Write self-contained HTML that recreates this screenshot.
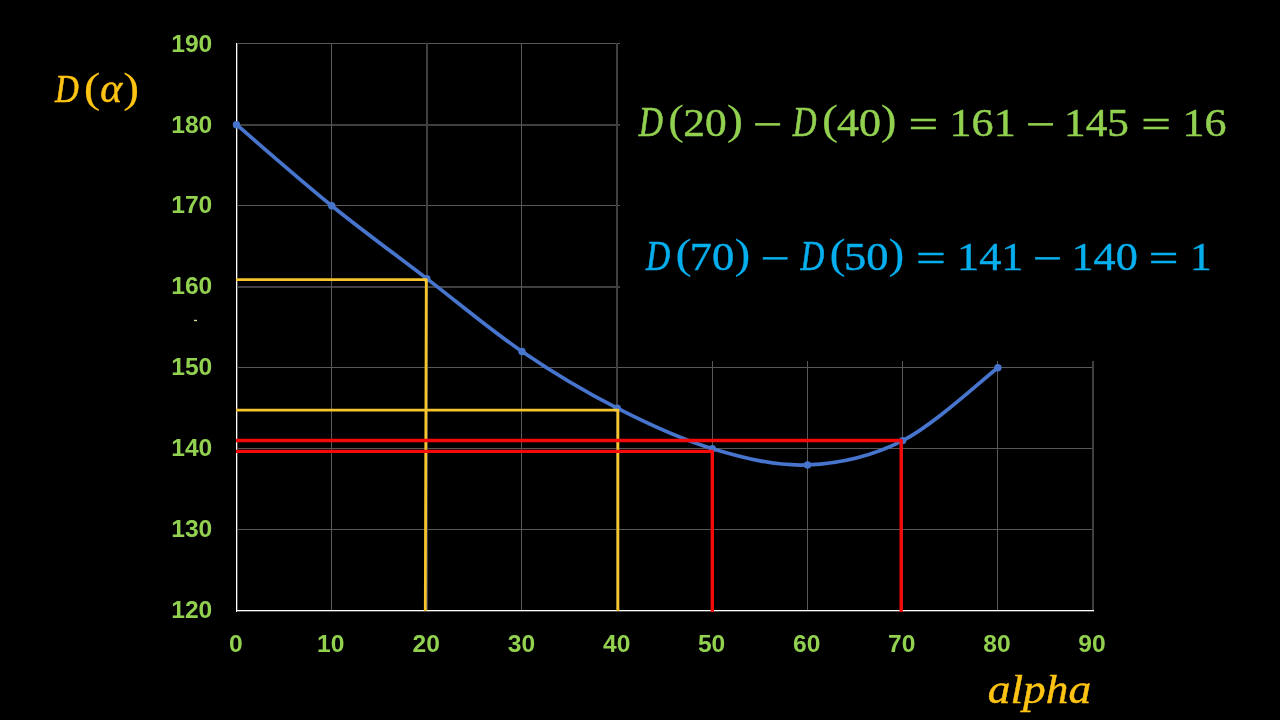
<!DOCTYPE html>
<html><head><meta charset="utf-8"><title>D(alpha) chart</title>
<style>
html,body{margin:0;padding:0;background:#000;width:1280px;height:720px;overflow:hidden}
svg{display:block}
</style></head>
<body>
<svg width="1280" height="720" viewBox="0 0 1280 720">
<rect width="1280" height="720" fill="#000"/>
<g>
<rect x="237" y="43" width="383" height="1" fill="#585858"/>
<rect x="237" y="124" width="383" height="2" fill="#404040"/>
<rect x="237" y="205" width="383" height="1" fill="#585858"/>
<rect x="237" y="286" width="383" height="2" fill="#404040"/>
<rect x="237" y="367" width="857" height="1" fill="#585858"/>
<rect x="237" y="448" width="857" height="1" fill="#585858"/>
<rect x="237" y="529" width="857" height="1" fill="#585858"/>
<rect x="331" y="43" width="1" height="567" fill="#585858"/>
<rect x="426" y="43" width="2" height="567" fill="#404040"/>
<rect x="521" y="43" width="1" height="567" fill="#585858"/>
<rect x="616" y="43" width="2" height="567" fill="#404040"/>
<rect x="712" y="361" width="1" height="249" fill="#585858"/>
<rect x="807" y="361" width="1" height="249" fill="#585858"/>
<rect x="902" y="361" width="1" height="249" fill="#585858"/>
<rect x="997" y="361" width="1" height="249" fill="#585858"/>
<rect x="1092" y="361" width="2" height="249" fill="#404040"/>
</g>
<rect x="236" y="43" width="1" height="569" fill="#fff"/>
<rect x="237" y="43" width="1" height="567" fill="#505050"/>
<rect x="236" y="610" width="858" height="1" fill="#fff"/>
<rect x="237" y="611" width="857" height="1" fill="#505050"/>
<g fill="none" stroke="#4774CC" stroke-width="3.7" stroke-linecap="round">
<path d="M236.5,124.7 C252.4,138.2 299.9,180.0 331.7,205.7 C363.4,231.3 395.1,254.3 426.8,278.6 C458.6,302.9 490.3,329.9 522.0,351.5 C553.7,373.1 585.5,392.0 617.2,408.2 C648.9,424.4 680.6,439.2 712.3,448.7 C744.1,458.1 775.8,466.3 807.5,464.9 C839.2,463.6 871.0,456.8 902.7,440.6 C934.4,424.4 982.0,379.8 997.9,367.7"/>
</g>
<g fill="#4774CC">
<circle cx="236.5" cy="124.7" r="3.7"/>
<circle cx="331.7" cy="205.7" r="3.7"/>
<circle cx="426.8" cy="278.6" r="3.7"/>
<circle cx="522.0" cy="351.5" r="3.7"/>
<circle cx="617.2" cy="408.2" r="3.7"/>
<circle cx="712.3" cy="448.7" r="3.7"/>
<circle cx="807.5" cy="464.9" r="3.7"/>
<circle cx="902.7" cy="440.6" r="3.7"/>
<circle cx="997.9" cy="367.7" r="3.7"/>
</g>
<g fill="none" stroke="#F6C42C" stroke-width="2.8" stroke-linejoin="round">
<path d="M236,279.6 H426.3 L425.3,611"/>
<path d="M236,410.2 H617.9 V611"/>
</g>
<g fill="none" stroke="#F50A0A" stroke-width="3.4" stroke-linejoin="round">
<path d="M236,440.5 H901.2 V612"/>
<path d="M236,451.4 H712.3 V612"/>
</g>
<rect x="194" y="319.8" width="3" height="1.4" fill="#d8d890"/>
<text transform="translate(638.78,135.50) scale(0.8066,1.0000)" font-family='"Liberation Serif", serif' font-size="41.5" font-style="italic" fill="#92D050" stroke="#92D050" stroke-width="0.620">D</text>
<text transform="translate(668.17,134.00) scale(1.1158,1.0000)" font-family='"Liberation Serif", serif' font-size="42" fill="#92D050" stroke="#92D050" stroke-width="0.134">(</text>
<text transform="translate(683.29,135.50) scale(1.0609,1.0000)" font-family='"Liberation Serif", serif' font-size="41" fill="#92D050" stroke="#92D050" stroke-width="0.471">20</text>
<text transform="translate(726.70,134.00) scale(1.1676,1.0000)" font-family='"Liberation Serif", serif' font-size="42" fill="#92D050" stroke="#92D050" stroke-width="0.128">)</text>
<text transform="translate(752.72,138.00) scale(1.2851,1.0000)" font-family='"Liberation Serif", serif' font-size="41" fill="#92D050" stroke="#92D050" stroke-width="0.389">−</text>
<text transform="translate(792.78,135.50) scale(0.7932,1.0000)" font-family='"Liberation Serif", serif' font-size="41.5" font-style="italic" fill="#92D050" stroke="#92D050" stroke-width="0.630">D</text>
<text transform="translate(821.90,134.00) scale(1.1531,1.0000)" font-family='"Liberation Serif", serif' font-size="42" fill="#92D050" stroke="#92D050" stroke-width="0.130">(</text>
<text transform="translate(837.07,135.50) scale(1.0716,1.0000)" font-family='"Liberation Serif", serif' font-size="41" fill="#92D050" stroke="#92D050" stroke-width="0.467">40</text>
<text transform="translate(880.85,134.00) scale(1.1310,1.0000)" font-family='"Liberation Serif", serif' font-size="42" fill="#92D050" stroke="#92D050" stroke-width="0.133">)</text>
<text transform="translate(908.62,137.50) scale(1.2851,1.0000)" font-family='"Liberation Serif", serif' font-size="41" fill="#92D050" stroke="#92D050" stroke-width="0.389">=</text>
<text transform="translate(949.60,135.50) scale(1.0746,1.0000)" font-family='"Liberation Serif", serif' font-size="41" fill="#92D050" stroke="#92D050" stroke-width="0.465">161</text>
<text transform="translate(1025.73,138.00) scale(1.2798,1.0000)" font-family='"Liberation Serif", serif' font-size="41" fill="#92D050" stroke="#92D050" stroke-width="0.391">−</text>
<text transform="translate(1064.07,135.50) scale(1.0554,1.0000)" font-family='"Liberation Serif", serif' font-size="41" fill="#92D050" stroke="#92D050" stroke-width="0.474">145</text>
<text transform="translate(1141.37,137.50) scale(1.2825,1.0000)" font-family='"Liberation Serif", serif' font-size="41" fill="#92D050" stroke="#92D050" stroke-width="0.390">=</text>
<text transform="translate(1182.40,135.50) scale(1.0748,1.0000)" font-family='"Liberation Serif", serif' font-size="41" fill="#92D050" stroke="#92D050" stroke-width="0.465">16</text>
<text transform="translate(646.08,269.50) scale(0.8066,1.0000)" font-family='"Liberation Serif", serif' font-size="41.5" font-style="italic" fill="#06AEED" stroke="#06AEED" stroke-width="0.620">D</text>
<text transform="translate(675.40,268.00) scale(1.1531,1.0000)" font-family='"Liberation Serif", serif' font-size="42" fill="#06AEED" stroke="#06AEED" stroke-width="0.130">(</text>
<text transform="translate(689.66,269.50) scale(1.0846,1.0000)" font-family='"Liberation Serif", serif' font-size="41" fill="#06AEED" stroke="#06AEED" stroke-width="0.461">70</text>
<text transform="translate(734.55,268.00) scale(1.1310,1.0000)" font-family='"Liberation Serif", serif' font-size="42" fill="#06AEED" stroke="#06AEED" stroke-width="0.133">)</text>
<text transform="translate(760.46,272.00) scale(1.2641,1.0000)" font-family='"Liberation Serif", serif' font-size="41" fill="#06AEED" stroke="#06AEED" stroke-width="0.396">−</text>
<text transform="translate(800.48,269.50) scale(0.7932,1.0000)" font-family='"Liberation Serif", serif' font-size="41.5" font-style="italic" fill="#06AEED" stroke="#06AEED" stroke-width="0.630">D</text>
<text transform="translate(829.50,268.00) scale(1.1531,1.0000)" font-family='"Liberation Serif", serif' font-size="42" fill="#06AEED" stroke="#06AEED" stroke-width="0.130">(</text>
<text transform="translate(844.08,269.50) scale(1.0867,1.0000)" font-family='"Liberation Serif", serif' font-size="41" fill="#06AEED" stroke="#06AEED" stroke-width="0.460">50</text>
<text transform="translate(888.45,268.00) scale(1.1310,1.0000)" font-family='"Liberation Serif", serif' font-size="42" fill="#06AEED" stroke="#06AEED" stroke-width="0.133">)</text>
<text transform="translate(916.00,271.50) scale(1.2903,1.0000)" font-family='"Liberation Serif", serif' font-size="41" fill="#06AEED" stroke="#06AEED" stroke-width="0.387">=</text>
<text transform="translate(957.09,269.50) scale(1.0800,1.0000)" font-family='"Liberation Serif", serif' font-size="41" fill="#06AEED" stroke="#06AEED" stroke-width="0.463">141</text>
<text transform="translate(1032.84,272.00) scale(1.2746,1.0000)" font-family='"Liberation Serif", serif' font-size="41" fill="#06AEED" stroke="#06AEED" stroke-width="0.392">−</text>
<text transform="translate(1071.49,269.50) scale(1.0776,1.0000)" font-family='"Liberation Serif", serif' font-size="41" fill="#06AEED" stroke="#06AEED" stroke-width="0.464">140</text>
<text transform="translate(1148.87,271.50) scale(1.2851,1.0000)" font-family='"Liberation Serif", serif' font-size="41" fill="#06AEED" stroke="#06AEED" stroke-width="0.389">=</text>
<text transform="translate(1190.06,269.50) scale(1.0581,1.0000)" font-family='"Liberation Serif", serif' font-size="41" fill="#06AEED" stroke="#06AEED" stroke-width="0.473">1</text>
<text transform="translate(54.98,101.70) scale(0.8128,1.0000)" font-family='"Liberation Serif", serif' font-size="40.5" font-style="italic" fill="#FFC413" stroke="#FFC413" stroke-width="0.615">D</text>
<text transform="translate(83.83,101.70) scale(1.2048,1.0000)" font-family='"Liberation Serif", serif' font-size="41.5" fill="#FFC413" stroke="#FFC413" stroke-width="0.124">(</text>
<text transform="translate(100.24,101.70) scale(1.0466,1.0000)" font-family='"Liberation Serif", serif' font-size="40" font-style="italic" fill="#FFC413" stroke="#FFC413" stroke-width="0.478">α</text>
<text transform="translate(123.35,101.70) scale(1.1446,1.0000)" font-family='"Liberation Serif", serif' font-size="41.5" fill="#FFC413" stroke="#FFC413" stroke-width="0.131">)</text>
<text transform="translate(987.79,703.40) scale(1.1346,1.0000)" font-family='"Liberation Serif", serif' font-size="40" font-style="italic" fill="#FFC413" stroke="#FFC413" stroke-width="0.441">alpha</text>
<text transform="translate(171.22,617.77) scale(1.0000,1.0000)" font-family='"Liberation Sans", sans-serif' font-size="24.6" font-weight="bold" fill="#92D050">120</text>
<text transform="translate(171.22,536.91) scale(1.0000,1.0000)" font-family='"Liberation Sans", sans-serif' font-size="24.6" font-weight="bold" fill="#92D050">130</text>
<text transform="translate(171.22,456.05) scale(1.0000,1.0000)" font-family='"Liberation Sans", sans-serif' font-size="24.6" font-weight="bold" fill="#92D050">140</text>
<text transform="translate(171.22,375.19) scale(1.0000,1.0000)" font-family='"Liberation Sans", sans-serif' font-size="24.6" font-weight="bold" fill="#92D050">150</text>
<text transform="translate(171.22,294.33) scale(1.0000,1.0000)" font-family='"Liberation Sans", sans-serif' font-size="24.6" font-weight="bold" fill="#92D050">160</text>
<text transform="translate(171.22,213.47) scale(1.0000,1.0000)" font-family='"Liberation Sans", sans-serif' font-size="24.6" font-weight="bold" fill="#92D050">170</text>
<text transform="translate(171.22,132.61) scale(1.0000,1.0000)" font-family='"Liberation Sans", sans-serif' font-size="24.6" font-weight="bold" fill="#92D050">180</text>
<text transform="translate(171.22,51.75) scale(1.0000,1.0000)" font-family='"Liberation Sans", sans-serif' font-size="24.6" font-weight="bold" fill="#92D050">190</text>
<text transform="translate(229.02,652.30) scale(1.0000,1.0000)" font-family='"Liberation Sans", sans-serif' font-size="24.6" font-weight="bold" fill="#92D050">0</text>
<text transform="translate(317.07,652.30) scale(1.0000,1.0000)" font-family='"Liberation Sans", sans-serif' font-size="24.6" font-weight="bold" fill="#92D050">10</text>
<text transform="translate(412.50,652.30) scale(1.0000,1.0000)" font-family='"Liberation Sans", sans-serif' font-size="24.6" font-weight="bold" fill="#92D050">20</text>
<text transform="translate(507.74,652.30) scale(1.0000,1.0000)" font-family='"Liberation Sans", sans-serif' font-size="24.6" font-weight="bold" fill="#92D050">30</text>
<text transform="translate(602.98,652.30) scale(1.0000,1.0000)" font-family='"Liberation Sans", sans-serif' font-size="24.6" font-weight="bold" fill="#92D050">40</text>
<text transform="translate(697.92,652.30) scale(1.0000,1.0000)" font-family='"Liberation Sans", sans-serif' font-size="24.6" font-weight="bold" fill="#92D050">50</text>
<text transform="translate(792.98,652.30) scale(1.0000,1.0000)" font-family='"Liberation Sans", sans-serif' font-size="24.6" font-weight="bold" fill="#92D050">60</text>
<text transform="translate(888.04,652.30) scale(1.0000,1.0000)" font-family='"Liberation Sans", sans-serif' font-size="24.6" font-weight="bold" fill="#92D050">70</text>
<text transform="translate(983.28,652.30) scale(1.0000,1.0000)" font-family='"Liberation Sans", sans-serif' font-size="24.6" font-weight="bold" fill="#92D050">80</text>
<text transform="translate(1078.34,652.30) scale(1.0000,1.0000)" font-family='"Liberation Sans", sans-serif' font-size="24.6" font-weight="bold" fill="#92D050">90</text>
</svg>
</body></html>
